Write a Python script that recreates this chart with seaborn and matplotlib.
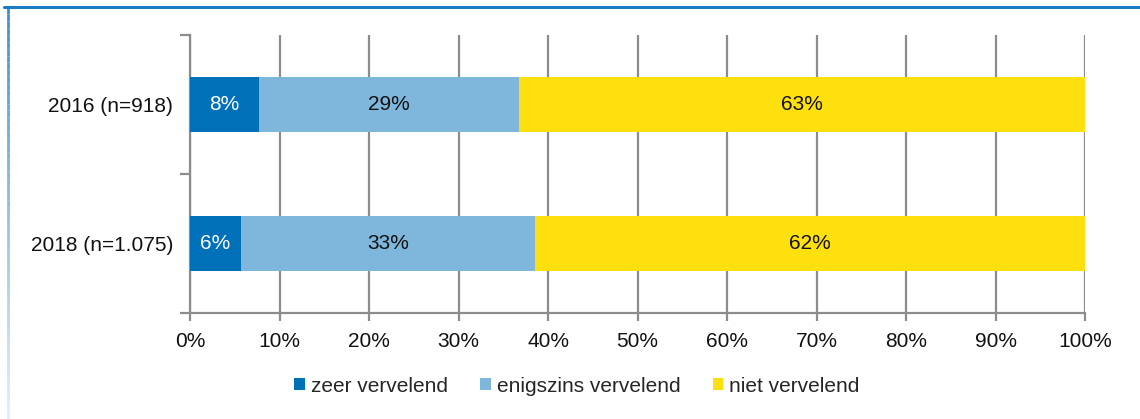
import numpy as np
import pandas as pd
import matplotlib
matplotlib.use("Agg")
import matplotlib.pyplot as plt
from matplotlib.collections import LineCollection
from matplotlib.patches import Patch
import seaborn as sns

# Survey shares per year (percent)
years = ["2016 (n=918)", "2018 (n=1.075)"]
zeer = [7.7, 5.7]
enigszins = [29.1, 32.8]
niet = [63.2, 61.5]
series_names = ["zeer vervelend", "enigszins vervelend", "niet vervelend"]
colors = ["#0070b9", "#7fb6dc", "#ffe00f"]
x_ticks = [0, 10, 20, 30, 40, 50, 60, 70, 80, 90, 100]

sns.set_theme(style="white")
plt.rcParams["font.family"] = ["Liberation Sans", "DejaVu Sans"]

df = pd.DataFrame({"jaar": years, "zeer": zeer, "enigszins": enigszins, "niet": niet})
df["c1"] = df["zeer"]
df["c2"] = df["zeer"] + df["enigszins"]
df["c3"] = df["c2"] + df["niet"]

fig = plt.figure(figsize=(11.4, 4.19), dpi=100)
ax = fig.add_axes([190 / 1140, 1 - 313 / 419, 895 / 1140, (313 - 35) / 419])

grid_c = "#8c8c8c"
for xv in x_ticks:
    ax.axvline(xv, color=grid_c, lw=1.6, zorder=0)

# Stacked bars: draw cumulative totals back to front
for col, c in zip(["c3", "c2", "c1"], colors[::-1]):
    sns.barplot(data=df, x=col, y="jaar", orient="h", color=c, width=0.4,
                saturation=1, ax=ax, zorder=2, linewidth=0)

# Segment labels
for i, row in df.iterrows():
    segs = [(0, row["zeer"], "white"),
            (row["c1"], row["enigszins"], "#111111"),
            (row["c2"], row["niet"], "#111111")]
    for start, val, tc in segs:
        ax.text(start + val / 2, i, f"{val:.0f}%", ha="center", va="center",
                fontsize=15, color=tc, zorder=3)

ax.set_xlim(0, 100)
ax.set_ylim(1.5, -0.5)
ax.set_xticks(x_ticks)
ax.set_xticklabels([f"{v}%" for v in x_ticks], fontsize=15, color="#111111")
ax.set_yticks([-0.5, 0.5, 1.5])
ax.set_yticklabels([])
ax.set_yticks([0, 1], minor=True)
ax.set_yticklabels(years, minor=True, fontsize=15, color="#111111")
ax.tick_params(axis="y", which="major", length=7, width=1.6, color=grid_c, left=True)
ax.tick_params(axis="y", which="minor", length=0, pad=12)
ax.tick_params(axis="x", length=6, width=1.6, color=grid_c, bottom=True, pad=8)
ax.set_xlabel("")
ax.set_ylabel("")
for s in ["top", "right"]:
    ax.spines[s].set_visible(False)
for s in ["left", "bottom"]:
    ax.spines[s].set_color(grid_c)
    ax.spines[s].set_linewidth(1.6)
    ax.spines[s].set_zorder(1)

handles = [Patch(facecolor=c, edgecolor="none") for c in colors]
fig.legend(handles, series_names, loc="center",
           bbox_to_anchor=(0.5 + 7 / 1140, 1 - 386 / 419),
           ncol=3, frameon=False, fontsize=15, handlelength=0.5, handleheight=0.5,
           handletextpad=0.3, columnspacing=1.55)

# Frame: solid top edge, left edge fading downward
fig.add_artist(plt.Line2D([4 / 1140, 1], [1 - 7.5 / 419, 1 - 7.5 / 419],
                          transform=fig.transFigure, color="#1a7cc4", lw=2.2))
n = 60
ys = np.linspace(1 - 7.5 / 419, 0, n + 1)
segs = [[(8 / 1140, ys[k]), (8 / 1140, ys[k + 1])] for k in range(n)]
alphas = np.linspace(0.85, 0.12, n)
lc = LineCollection(segs, colors=[(0.10, 0.49, 0.77, a) for a in alphas],
                    linewidths=2.0, transform=fig.transFigure)
fig.add_artist(lc)

fig.savefig("out.png", dpi=100, facecolor="white")
